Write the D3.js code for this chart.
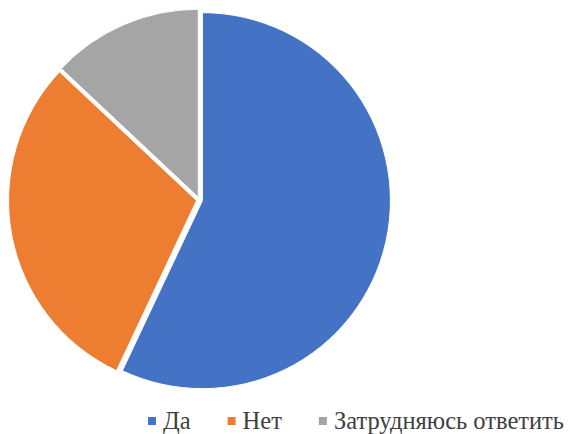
<!DOCTYPE html>
<html>
<head>
<meta charset="utf-8">
<script src="https://cdn.jsdelivr.net/npm/d3@7"></script>
<style>
  body { margin: 0; background: #fff; }
</style>
</head>
<body>
<div id="chart-area"></div>
<script>
// chart values
var categories = ["Да", "Нет", "Затрудняюсь ответить"];
var values = [57, 30, 13];
var colours = ["#4472C4", "#ED7D31", "#A5A5A5"];

var width = 570, height = 434;
var cx = 199.5, cy = 200, radius = 188, explode = 3;

var svg = d3.select("#chart-area")
    .append("svg")
    .attr("width", width)
    .attr("height", height);

var pie = d3.pie().sort(null).value(function(d){ return d; });
var arc = d3.arc().innerRadius(0).outerRadius(radius);

var g = svg.append("g")
    .attr("transform", "translate(" + cx + "," + cy + ")");

// slices, each pushed out a little along its middle angle
g.selectAll("path")
    .data(pie(values))
    .enter()
    .append("path")
        .attr("d", arc)
        .attr("fill", function(d, i){ return colours[i]; })
        .attr("stroke", "#fff")
        .attr("stroke-width", 1)
        .attr("transform", function(d){
            var a = (d.startAngle + d.endAngle) / 2;
            return "translate(" + (Math.sin(a) * explode) + "," + (-Math.cos(a) * explode) + ")";
        });

// legend
var legend = svg.append("g");
var lx = 148, baseline = 429, box = 8, gap = 37;
categories.forEach(function(c, i){
    legend.append("rect")
        .attr("x", lx)
        .attr("y", baseline - 12)
        .attr("width", box)
        .attr("height", box)
        .attr("fill", colours[i]);
    var t = legend.append("text")
        .attr("x", lx + box + 7)
        .attr("y", baseline)
        .style("font-family", "Tinos, 'Liberation Serif', serif")
        .style("font-size", "24.5px")
        .style("fill", "#404040")
        .text(c);
    lx = lx + box + 7 + t.node().getComputedTextLength() + gap;
});
</script>
</body>
</html>
